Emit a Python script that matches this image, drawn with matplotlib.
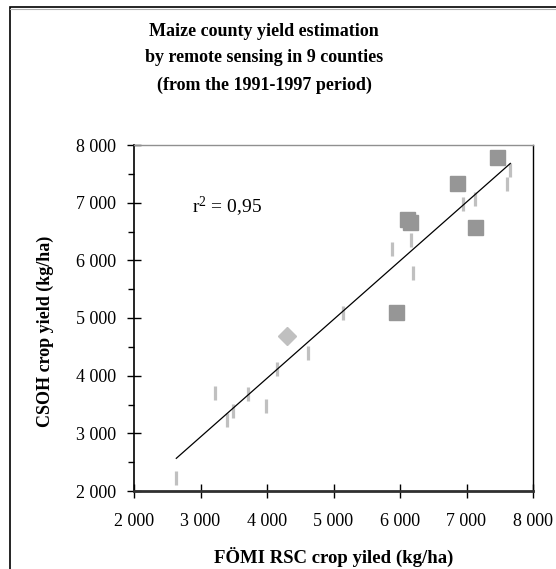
import numpy as np
import matplotlib
matplotlib.use("Agg")
import matplotlib.pyplot as plt
from matplotlib.ticker import FuncFormatter, MultipleLocator
from matplotlib.patches import Rectangle

# County yield pairs (kg/ha): FÖMI RSC estimate vs. CSOH statistics
bar_x = [2636, 3213, 3394, 3489, 3710, 3990, 4145, 4621,
         5138, 5875, 6165, 6200, 6952, 7128, 7659, 7609]
bar_y = [2234, 3699, 3237, 3387, 3687, 3469, 4110, 4393,
         5092, 6193, 6347, 5780, 6971, 7058, 7572, 7328]

square_x = [5935, 6105, 6150, 6853, 7128, 7459]
square_y = [5109, 6716, 6664, 7335, 6573, 7792]

diamond_x = [4296]
diamond_y = [4688]

r2_label = "0,95"
title_lines = ["Maize county yield estimation",
               "by remote sensing in 9 counties",
               "(from the 1991-1997 period)"]
x_label = "FÖMI RSC crop yiled (kg/ha)"
y_label = "CSOH crop yield (kg/ha)"

serif = ["Liberation Serif", "DejaVu Serif"]
plt.rcParams["font.family"] = serif
plt.rcParams["mathtext.default"] = "regular"

W, H = 556, 569
fig = plt.figure(figsize=(W / 100, H / 100), dpi=100)

# outer frame of the chart area
frame = Rectangle((10 / W, -0.05), 1.2, 1 - 7 / H + 0.05, transform=fig.transFigure,
                  fill=False, edgecolor="black", linewidth=1.2, zorder=0)
fig.patches.append(frame)
fig.add_artist(plt.Line2D([10 / W, 1], [1 - 9 / H, 1 - 9 / H], transform=fig.transFigure,
                          color="#b0b0b0", linewidth=0.8))

ax = fig.add_axes([134 / W, 78 / H, (533 - 134) / W, (491 - 145) / H])

ax.plot(bar_x, bar_y, linestyle="none", marker="|", markersize=10,
        markeredgewidth=2.3, color="#c0c0c0", zorder=2)
ax.plot(diamond_x, diamond_y, linestyle="none", marker="D", markersize=9.5,
        color="#c0c0c0", zorder=3)
ax.plot(square_x, square_y, linestyle="none", marker="s", markersize=10.8,
        color="#969696", zorder=3)

# linear trend over all points
all_x = np.array(bar_x + square_x + diamond_x, dtype=float)
all_y = np.array(bar_y + square_y + diamond_y, dtype=float)
slope, intercept = np.polyfit(all_x, all_y, 1)
tx = np.array([all_x.min(), all_x.max()])
ax.plot(tx, slope * tx + intercept, color="black", linewidth=0.9, zorder=4)

ax.set_xlim(2000, 8000)
ax.set_ylim(2000, 8000)

fmt = FuncFormatter(lambda v, p: f"{int(v):,}".replace(",", " "))
ax.xaxis.set_major_locator(MultipleLocator(1000))
ax.yaxis.set_major_locator(MultipleLocator(1000))
ax.yaxis.set_minor_locator(MultipleLocator(500))
ax.xaxis.set_major_formatter(fmt)
ax.yaxis.set_major_formatter(fmt)
ax.tick_params(axis="both", which="major", direction="inout", length=10, width=1,
               labelsize=13, colors="black")
ax.tick_params(axis="y", which="minor", direction="out", length=4, width=1)
ax.tick_params(axis="x", which="major", pad=11)
ax.tick_params(axis="y", which="major", pad=8)

ax.spines["left"].set_color("black")
ax.spines["left"].set_linewidth(1.2)
ax.spines["right"].set_color("black")
ax.spines["right"].set_linewidth(1.0)
ax.spines["top"].set_color("#909090")
ax.spines["top"].set_linewidth(1.0)
ax.spines["bottom"].set_color("#303030")
ax.spines["bottom"].set_linewidth(2.0)

xl = ax.set_xlabel(x_label, fontsize=13.5, fontweight="bold")
yl = ax.set_ylabel(y_label, fontsize=13, fontweight="bold")
xl.set_va("center")
yl.set_va("center")
ax.xaxis.set_label_coords(0.5, (491 - 557) / 346)
ax.yaxis.set_label_coords((45 - 134) / 399, (491 - 331) / 346)

ax.text(0.146, 0.82, "r$^{2}$ = " + r2_label, transform=ax.transAxes,
        fontsize=14, ha="left", va="center")

for i, line in enumerate(title_lines):
    fig.text(264 / W, 1 - (31 + 27 * i) / H, line, ha="center", va="center",
             fontsize=13, fontweight="bold")

fig.savefig("out.png", dpi=100)
